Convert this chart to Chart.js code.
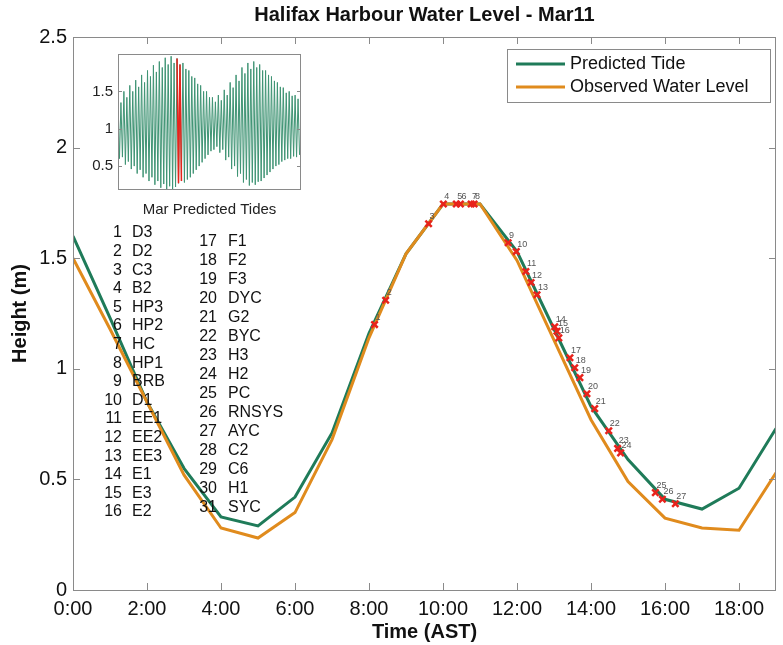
<!DOCTYPE html>
<html><head><meta charset="utf-8">
<script src="https://cdn.jsdelivr.net/npm/chart.js@4.4.0/dist/chart.umd.min.js"></script>
<style>
html,body{margin:0;padding:0;background:#fff;}
#wrap{position:relative;width:783px;height:645px;overflow:hidden;}
#main{position:absolute;left:0;top:0;}
#inset{position:absolute;left:80px;top:44px;}
</style></head><body>
<div id="wrap"><canvas id="main" width="783" height="645"></canvas><canvas id="inset" width="226" height="180"></canvas></div>
<script>
// ---------- data ----------
const hours = [0,1,2,3,4,5,6,7,8,9,10,11,12,13,14,15,16,17,18,19];
const predicted = [1.60,1.23,0.85,0.55,0.33,0.29,0.42,0.71,1.16,1.52,1.745,1.745,1.53,1.18,0.83,0.59,0.41,0.366,0.46,0.73];
const observed  = [1.50,1.18,0.85,0.52,0.28,0.235,0.35,0.68,1.14,1.52,1.745,1.745,1.49,1.13,0.77,0.49,0.325,0.28,0.27,0.53];

const stationTimes   = [8.15,8.45,9.61,10.01,10.36,10.47,10.76,10.84,11.76,11.98,12.24,12.38,12.54,13.02,13.08,13.13,13.43,13.56,13.70,13.89,14.10,14.48,14.72,14.80,15.74,15.93,16.28];
const stationHeights = [1.20,1.31,1.656,1.745,1.745,1.745,1.745,1.745,1.57,1.53,1.44,1.39,1.335,1.19,1.17,1.14,1.05,1.005,0.96,0.887,0.82,0.72,0.64,0.62,0.44,0.41,0.39];
const stationNames = ['D3','D2','C3','B2','HP3','HP2','HC','HP1','BRB','D1','EE1','EE2','EE3','E1','E3','E2',
  'F1','F2','F3','DYC','G2','BYC','H3','H2','PC','RNSYS','AYC','C2','C6','H1','SYC'];

const xTicks = [0,2,4,6,8,10,12,14,16,18];
const xTickLabels = ['0:00','2:00','4:00','6:00','8:00','10:00','12:00','14:00','16:00','18:00'];
const yTicks = [0,0.5,1,1.5,2,2.5];
const yTickLabels = ['0','0.5','1','1.5','2','2.5'];

// inset: monthly predicted tides (two highs / two lows per day, estimated)
const insetHighs = [1.40,1.35, 1.50,1.42, 1.58,1.50, 1.65,1.56, 1.72,1.62, 1.78,1.70, 1.85,1.76, 1.90,1.82, 1.95,1.86, 1.97,1.88,
  1.94,1.86, 1.88,1.80, 1.78,1.70, 1.68,1.60, 1.58,1.50, 1.50,1.42, 1.42,1.36, 1.45,1.38, 1.52,1.45, 1.62,1.55,
  1.72,1.64, 1.82,1.74, 1.88,1.80, 1.90,1.82, 1.86,1.78, 1.78,1.72, 1.70,1.64, 1.62,1.56, 1.55,1.48, 1.50,1.44, 1.45,1.40];
const insetLows = [0.60,0.62, 0.52,0.56, 0.46,0.50, 0.40,0.45, 0.35,0.40, 0.30,0.35, 0.25,0.30, 0.21,0.26, 0.18,0.23, 0.17,0.22,
  0.27,0.30, 0.28,0.32, 0.35,0.40, 0.45,0.50, 0.55,0.60, 0.65,0.70, 0.72,0.76, 0.68,0.72, 0.58,0.62, 0.46,0.50,
  0.36,0.40, 0.28,0.32, 0.24,0.28, 0.25,0.29, 0.30,0.34, 0.38,0.42, 0.46,0.50, 0.52,0.56, 0.58,0.60, 0.60,0.63, 0.62,0.65];
const insetDays = 31;
const insetHighlightDay = 10;
const insetYTicks = [0.5,1,1.5];
const insetYTickLabels = ['0.5','1','1.5'];

// ---------- styles ----------
const FONT = "'Liberation Sans', Arial, sans-serif";
const GREEN = '#1f7b59';
const ORANGE = '#e08b1d';
const RED = '#e8231c';
const FRAME = '#8a8a8a';

const noPad = () => ({left:0,right:0,top:0,bottom:0});

const predPts = hours.map((h,i)=>({x:h,y:predicted[i]}));
const obsPts  = hours.map((h,i)=>({x:h,y:observed[i]}));
const stationPts = stationTimes.map((t,i)=>({x:t,y:stationHeights[i]}));

const mainDecor = {
  id:'mainDecor',
  beforeDraw(chart){
    const c=chart.ctx; c.save(); c.fillStyle='#fff'; c.fillRect(0,0,chart.width,chart.height); c.restore();
  },
  afterDraw(chart){
    const c=chart.ctx, a=chart.chartArea, xs=chart.scales.x, ys=chart.scales.y;
    c.save();
    // frame
    c.strokeStyle=FRAME; c.lineWidth=1;
    c.strokeRect(Math.round(a.left)+0.5, Math.round(a.top)+0.5, Math.round(a.right-a.left)-1, Math.round(a.bottom-a.top));
    // inward ticks
    c.beginPath();
    xTicks.forEach(v=>{ const px=Math.round(xs.getPixelForValue(v))+0.5;
      c.moveTo(px,a.bottom); c.lineTo(px,a.bottom-7); c.moveTo(px,a.top); c.lineTo(px,a.top+7); });
    yTicks.forEach(v=>{ const py=Math.round(ys.getPixelForValue(v))+0.5;
      c.moveTo(a.left,py); c.lineTo(a.left+7,py); c.moveTo(a.right,py); c.lineTo(a.right-7,py); });
    c.stroke();
    // titles
    c.fillStyle='#111'; c.textAlign='center'; c.textBaseline='middle';
    c.font='bold 20px '+FONT;
    c.fillText('Halifax Harbour Water Level - Mar11', (a.left+a.right)/2, 15);
    c.fillText('Time (AST)', (a.left+a.right)/2, 632);
    c.save(); c.translate(20,(a.top+a.bottom)/2); c.rotate(-Math.PI/2); c.fillText('Height (m)',0,0); c.restore();
    // station labels near markers
    const meta = chart.getDatasetMeta(0);
    c.font='9px '+FONT; c.fillStyle='#555'; c.textAlign='left'; c.textBaseline='alphabetic';
    meta.data.forEach((pt,i)=>{ c.fillText(String(i+1), pt.x+1, pt.y-5); });
    // station list
    c.fillStyle='#111'; c.font='16px '+FONT; c.textBaseline='middle';
    stationNames.forEach((nm,i)=>{
      let nx, tx, y;
      if(i<16){ nx=122; tx=132; y=233+i*18.6; } else { nx=217; tx=228; y=242+(i-16)*19; }
      c.textAlign='right'; c.fillText(String(i+1), nx, y);
      c.textAlign='left'; c.fillText(nm, tx, y);
    });
    // legend
    const lx=507.5, ly=49.5, lw=263, lh=53;
    c.fillStyle='#fff'; c.fillRect(lx,ly,lw,lh);
    c.strokeStyle=FRAME; c.lineWidth=1; c.strokeRect(lx,ly,lw,lh);
    const items=[chart.data.datasets[2], chart.data.datasets[1]];
    items.forEach((ds,i)=>{
      const y = 64 + i*23;
      c.strokeStyle=ds.borderColor; c.lineWidth=3; c.beginPath(); c.moveTo(516,y); c.lineTo(565,y); c.stroke();
      c.fillStyle='#111'; c.font='18px '+FONT; c.textAlign='left'; c.textBaseline='middle';
      c.fillText(ds.label, 570, y);
    });
    c.restore();
  }
};

new Chart(document.getElementById('main'), {
  type:'line',
  data:{datasets:[
    {label:'Stations', type:'scatter', data:stationPts, showLine:false, pointStyle:'crossRot', pointRadius:4.5,
     borderColor:RED, backgroundColor:RED, pointBorderWidth:2.5, borderWidth:2.5, order:0},
    {label:'Observed Water Level', data:obsPts, borderColor:ORANGE, borderWidth:3, pointRadius:0, tension:0, fill:false, order:1},
    {label:'Predicted Tide', data:predPts, borderColor:GREEN, borderWidth:3, pointRadius:0, tension:0, fill:false, order:2}
  ]},
  options:{
    responsive:false, animation:false, devicePixelRatio:1,
    layout:{padding:{top:37,right:3,left:0,bottom:0}},
    plugins:{legend:{display:false}, title:{display:false}, tooltip:{enabled:false}},
    scales:{
      x:{type:'linear', min:0, max:19,
         afterBuildTicks:s=>{ s.ticks = xTicks.map(v=>({value:v})); },
         ticks:{callback:v=>xTickLabels[xTicks.indexOf(v)], font:{family:FONT,size:20}, color:'#111', padding:7, maxRotation:0, autoSkip:false},
         grid:{display:false, drawTicks:false}, border:{display:false},
         afterFit:s=>{ s.height=55; s.paddingLeft=0; s.paddingRight=0; s.getPadding=noPad; }},
      y:{type:'linear', min:0, max:2.5,
         afterBuildTicks:s=>{ s.ticks = yTicks.map(v=>({value:v})); },
         ticks:{callback:v=>yTickLabels[yTicks.indexOf(v)], font:{family:FONT,size:20}, color:'#111', padding:6},
         grid:{display:false, drawTicks:false}, border:{display:false},
         afterFit:s=>{ s.width=73; s.getPadding=noPad; }}
    }
  },
  plugins:[mainDecor]
});

// ---------- inset ----------
const tideSeries = [];
for(let d=0; d<insetDays; d++){
  for(let k=0;k<2;k++){
    tideSeries.push({x:d+k*0.5, y:insetHighs[2*d+k]});
    tideSeries.push({x:d+k*0.5+0.25, y:insetLows[2*d+k]});
  }
}
const redSeries = tideSeries.filter(p=>p.x>=insetHighlightDay && p.x<=insetHighlightDay+0.8);

const insetDecor = {
  id:'insetDecor',
  beforeDatasetsDraw(chart){
    const c=chart.ctx, a=chart.chartArea; c.save(); c.fillStyle='#fff'; c.fillRect(a.left,a.top,a.right-a.left,a.bottom-a.top); c.restore();
  },
  afterDraw(chart){
    const c=chart.ctx, a=chart.chartArea, ys=chart.scales.y;
    c.save();
    c.strokeStyle=FRAME; c.lineWidth=1;
    c.strokeRect(Math.round(a.left)+0.5, Math.round(a.top)+0.5, Math.round(a.right-a.left)-1, Math.round(a.bottom-a.top)-1);
    c.beginPath();
    insetYTicks.forEach(v=>{ const py=Math.round(ys.getPixelForValue(v))+0.5;
      c.moveTo(a.left,py); c.lineTo(a.left+4,py); c.moveTo(a.right,py); c.lineTo(a.right-4,py); });
    c.stroke();
    c.fillStyle='#222'; c.font='15px '+FONT; c.textAlign='center'; c.textBaseline='middle';
    c.fillText('Mar Predicted Tides', (a.left+a.right)/2, 166);
    c.restore();
  }
};

new Chart(document.getElementById('inset'), {
  type:'line',
  data:{datasets:[
    {data:redSeries, borderColor:RED, borderWidth:1.5, pointRadius:0, tension:0, order:0},
    {data:tideSeries, borderColor:'#3f9474', borderWidth:1, pointRadius:0, tension:0, order:1}
  ]},
  options:{
    responsive:false, animation:false, devicePixelRatio:1,
    layout:{padding:{top:10,right:5,left:0,bottom:0}},
    plugins:{legend:{display:false}, title:{display:false}, tooltip:{enabled:false}},
    scales:{
      x:{type:'linear', min:0, max:insetDays, ticks:{display:false}, grid:{display:false, drawTicks:false}, border:{display:false},
         afterFit:s=>{ s.height=34; s.getPadding=noPad; }},
      y:{type:'linear', min:0.18, max:2.0,
         afterBuildTicks:s=>{ s.ticks = insetYTicks.map(v=>({value:v})); },
         ticks:{callback:v=>insetYTickLabels[insetYTicks.indexOf(v)], font:{family:FONT,size:15}, color:'#222', padding:5},
         grid:{display:false, drawTicks:false}, border:{display:false},
         afterFit:s=>{ s.width=38; s.getPadding=noPad; }}
    }
  },
  plugins:[insetDecor]
});
</script>
</body></html>
